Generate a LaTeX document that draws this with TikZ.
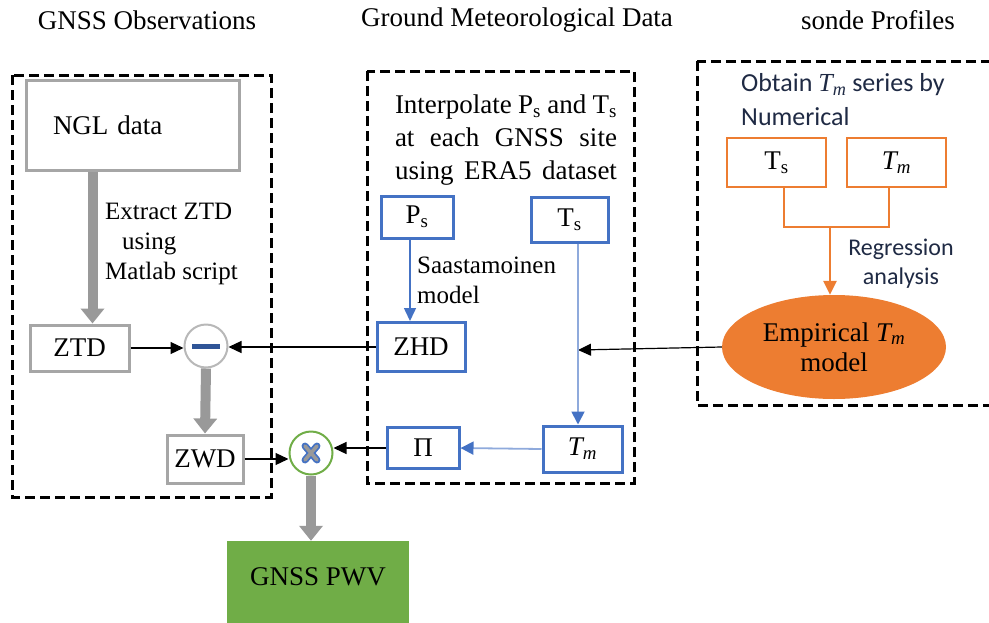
\documentclass[tikz,border=0pt]{standalone}
\usepackage{fontspec}
\setmainfont{Liberation Serif}
\setsansfont{Carlito}
\usepackage{xcolor}
\usepackage{tikz}
\usetikzlibrary{arrows.meta,shapes.geometric}
\definecolor{boxgray}{HTML}{A6A6A6}
\definecolor{arrowgray}{HTML}{999999}
\definecolor{msblue}{HTML}{4472C4}
\definecolor{lightblue}{HTML}{8FAADC}
\definecolor{msorange}{HTML}{ED7D31}
\definecolor{msgreen}{HTML}{70AD47}
\definecolor{minusblue}{HTML}{2F5597}
\definecolor{textnavy}{HTML}{1F2A44}

\begin{document}
\begin{tikzpicture}[x=1pt,y=-1pt,
  title/.style={font=\fontsize{27}{30}\selectfont},
  boxtext/.style={font=\fontsize{27}{30}\selectfont},
  note/.style={font=\fontsize{25}{30}\selectfont,inner sep=0pt},
  sansnote/.style={font=\sffamily\fontsize{24}{29}\selectfont,text=textnavy,inner sep=0pt},
  graybox/.style={boxtext,draw=boxgray,line width=3pt,fill=white,inner sep=0pt},
  bluebox/.style={boxtext,draw=msblue,line width=3pt,inner sep=0pt},
  orangebox/.style={boxtext,draw=msorange,line width=2.5pt,inner sep=0pt},
  group/.style={draw=black,line width=3pt,dash pattern=on 10pt off 5pt},
  fatarrow/.style={draw=arrowgray,line width=10pt,-{Triangle[length=15pt,width=23pt]}},
  thinarrow/.style={draw=black,line width=1.2pt,-{Triangle[length=13pt,width=12pt]}},
  bluearrow/.style={draw=msblue,line width=1.5pt,-{Triangle[length=13pt,width=12pt]}},
  lightarrow/.style={draw=lightblue,line width=1.8pt,-{Triangle[length=13pt,width=13pt,color=msblue]}},
  orangeline/.style={draw=msorange,line width=2.5pt}]
\useasboundingbox (0,0) rectangle (989,622);
\clip (0,0) rectangle (989,622);

% column titles
\node[title] (t1) at (147,20) {GNSS Observations};
\node[title] (t2) at (517,20) {Ground Meteorological Data};
\node[title] (t3) at (878,20) {sonde Profiles};

% dashed groups
\draw[group] (12,75) rectangle (271,497);
\draw[group] (367,71) rectangle (634,483);
\draw[group] (697,61) rectangle (1010,405);

% GNSS observations
\node[graybox,minimum height=90,text width=159,align=left,inner xsep=27] (ngl) at (132.5,125) {NGL data};
\node[graybox,minimum width=99,minimum height=46] (ztd) at (79.5,348) {ZTD};
\node[circle,draw=boxgray!80,line width=2pt,fill=white,minimum size=43,inner sep=0pt] (minus) at (206,346) {\color{minusblue}\rule{28pt}{5pt}};
\node[graybox,minimum width=76,minimum height=48] (zwd) at (205,459) {ZWD};
\node[circle,draw=msgreen,line width=2pt,fill=white,minimum size=43,inner sep=0pt,
  path picture={
    \foreach \c/\w in {msblue/7pt,arrowgray/3.5pt}
      \draw[\c,line width=\w,line cap=round]
        ([shift={(-6,-7)}]path picture bounding box.center) -- ([shift={(6,7)}]path picture bounding box.center)
        ([shift={(-6,7)}]path picture bounding box.center) -- ([shift={(6,-7)}]path picture bounding box.center);
  }] (cross) at (311,453) {};
\node[boxtext,fill=msgreen,minimum width=182,minimum height=100,text height=19,text depth=31,inner sep=0pt] (pwv) at (318,591) {GNSS PWV};
\node[note,align=left,anchor=west] (extract) at (105,244) {Extract ZTD\\\hspace{17pt}using\\Matlab script};

% ground meteorological data
\node[boxtext,align=left,inner sep=0pt,font=\fontsize{27}{33}\selectfont] (interp) at (506,140)
  {\makebox[222pt][s]{Interpolate P\textsubscript{s} and T\textsubscript{s}}\\
   \makebox[222pt][s]{at each GNSS site}\\
   \makebox[222pt][s]{using ERA5 dataset}};
\node[bluebox,minimum width=72,minimum height=42] (ps) at (417,217) {P\textsubscript{s}};
\node[bluebox,minimum width=77,minimum height=45] (ts) at (569.5,219.5) {T\textsubscript{s}};
\node[bluebox,minimum width=88,minimum height=49] (zhd) at (421,347) {ZHD};
\node[bluebox,minimum width=79,minimum height=46] (tm) at (582.5,449) {\textit{T\textsubscript{m}}};
\node[bluebox,minimum width=72,minimum height=41] (pi) at (423,448) {Π};
\node[note,align=left,anchor=west] (saas) at (417,280) {Saastamoinen\\model};
\coordinate (jn) at (578,350);

% radiosonde profiles
\node[sansnote,font=\sffamily\fontsize{26}{34}\selectfont,align=left,anchor=west] (obtain) at (741,100)
  {Obtain {\rmfamily\itshape T\textsubscript{m}} series by\\Numerical};
\node[orangebox,minimum width=99,minimum height=49] (ots) at (776.5,162.5) {T\textsubscript{s}};
\node[orangebox,minimum width=99,minimum height=49] (otm) at (896.5,162.5) {\textit{T\textsubscript{m}}};
\node[boxtext,ellipse,fill=msorange,minimum width=224,minimum height=104,inner sep=0pt,align=center] (emp) at (834,347)
  {Empirical \textit{T\textsubscript{m}}\\model};
\node[sansnote,align=center] (regr) at (901,264) {Regression\\analysis};
\coordinate (mrg) at (830,227);

% connectors
\draw[fatarrow] ([xshift=13]ztd.north |- ngl.south) -- ([xshift=13]ztd.north);
\draw[fatarrow] (minus.south) -- (zwd.north);
\draw[fatarrow] (cross.south) -- (cross.south |- pwv.north);
\draw[thinarrow] (ztd.east) -- (ztd.east -| minus.west);
\draw[thinarrow] (zhd.west) -- (zhd.west -| minus.east);
\draw[thinarrow] (zwd.east) -- (zwd.east -| cross.west);
\draw[thinarrow] (pi.west) -- (pi.west -| cross.east);
\draw[thinarrow] (emp.west) -- (jn);
\draw[bluearrow] ([xshift=-7]ps.south) -- ([xshift=-7]ps.south |- zhd.north);
\draw[lightarrow] (ts.south -| jn) -- (tm.north -| jn);
\draw[lightarrow] (tm.west) -- (pi.east);
\draw[orangeline] ([xshift=7.5]ots.south) |- ([xshift=-7.5]otm.south |- mrg) -- ([xshift=-7.5]otm.south);
\draw[orangeline,-{Triangle[length=14pt,width=13pt]}] (mrg) -- (mrg |- emp.north);
\end{tikzpicture}
\end{document}
